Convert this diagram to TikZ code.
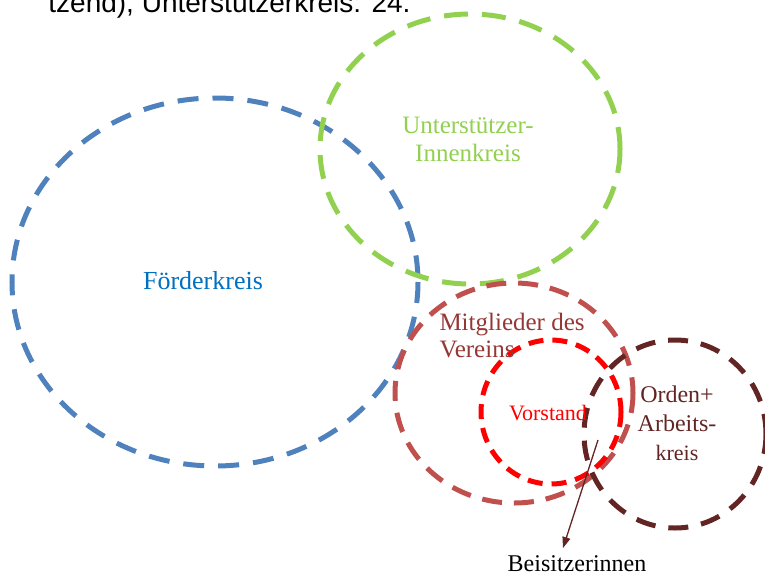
\documentclass[tikz,border=0pt]{standalone}
\usepackage{fontspec}
\setmainfont{Liberation Serif}
\newfontfamily\headfont{Liberation Sans}
\usetikzlibrary{arrows.meta}

\definecolor{foerderline}{HTML}{4F81BD}
\definecolor{foerdertext}{HTML}{0070C0}
\definecolor{innengreen}{HTML}{92D050}
\definecolor{vereinline}{HTML}{C0504D}
\definecolor{vereintext}{HTML}{953735}
\definecolor{ordenbrown}{HTML}{632523}

\begin{document}
\begin{tikzpicture}[x=1pt,y=-1pt,line width=5pt,
		ring/.style={dash pattern=on 21pt off 14pt},
		label/.style={inner sep=0pt,font=\fontsize{25}{28}\selectfont}
	]
	\useasboundingbox (0,0) rectangle (765,576);

	\node [anchor=base east,inner sep=0pt,font=\headfont\fontsize{28}{32}\selectfont] (head) at (413,12) {tzend), Unterstützerkreis: 24.};

	\draw [ring,foerderline] (215,282) ellipse [x radius=203,y radius=184];
	\draw [ring,innengreen,dash pattern=on 24pt off 14pt] (470,149) ellipse [x radius=150,y radius=135];
	\draw [ring,vereinline,dash pattern=on 20pt off 12pt] (514,393) ellipse [x radius=119,y radius=110];
	\draw [ring,red,dash pattern=on 15pt off 9pt] (551,412) ellipse [x radius=70,y radius=72];
	\draw [ring,ordenbrown,dash pattern=on 20pt off 13pt] (675,434) ellipse [x radius=91,y radius=94];

	\node [label,foerdertext,font=\fontsize{26}{30}\selectfont] (foerder) at (203,281) {Förderkreis};
	\node [label,innengreen,align=center] (innen) at (468,139) {Unterstützer-\\Innenkreis};
	\node [label,vereintext,align=left,anchor=west,font=\fontsize{25}{27}\selectfont] (verein) at (437,336) {Mitglieder des\\Vereins};
	\node [label,red,font=\fontsize{22}{26}\selectfont] (vorstand) at (548,413) {Vorstand};
	\node [label,ordenbrown,align=center,font=\fontsize{24}{29}\selectfont] (orden) at (677,423) {Orden+\\Arbeits-\\{\fontsize{22}{26}\selectfont kreis}};
	\node [inner sep=0pt,font=\fontsize{24}{28}\selectfont] (beisitz) at (577,564) {Beisitzerinnen};

	\coordinate (overlap) at (598,440);
	\coordinate (tip) at (563,548);
	\draw [-{Triangle[length=11pt,width=8pt]},line width=1.3pt,ordenbrown] (overlap) -- (tip);
\end{tikzpicture}
\end{document}
